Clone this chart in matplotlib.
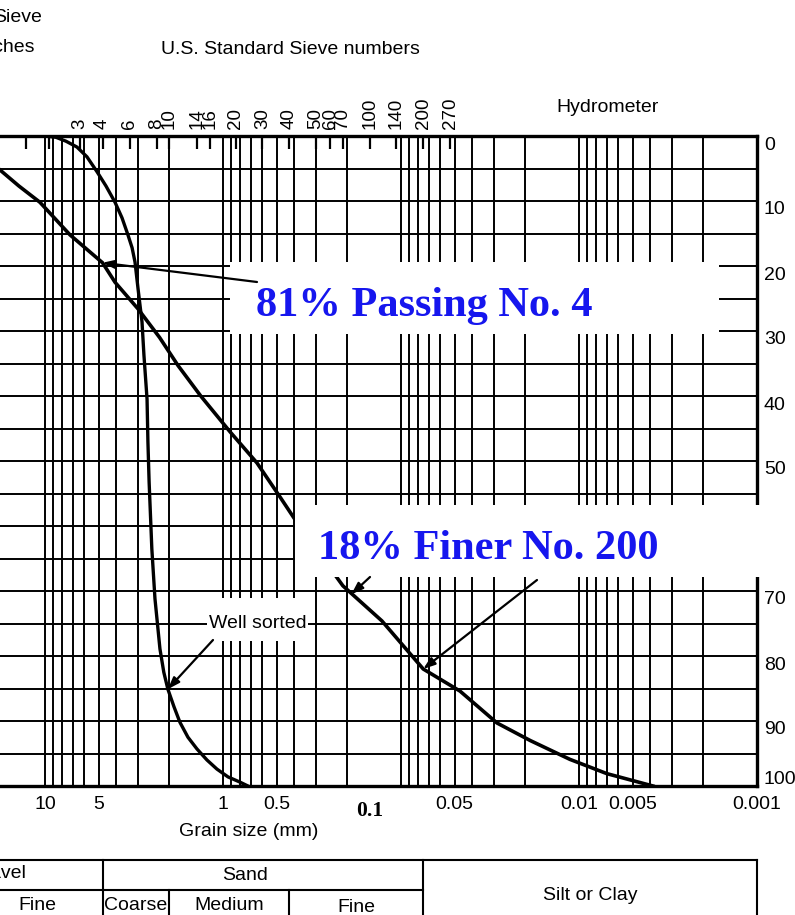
import numpy as np
import matplotlib
matplotlib.use('Agg')
import matplotlib.pyplot as plt
from matplotlib.patches import Rectangle
from matplotlib.ticker import LogLocator, MultipleLocator, NullLocator, NullFormatter
from matplotlib.transforms import ScaledTranslation, blended_transform_factory

# 粒径加積曲線（粒径 mm / 残留百分率）
graded_mm = [20, 14.0, 10.67, 7.24, 4.75, 4.04, 3.00, 2.27, 1.79, 1.333, 0.913, 0.644,
             0.479, 0.394, 0.212, 0.128, 0.075, 0.0466, 0.0289, 0.0188, 0.01125,
             0.00697, 0.00384]
graded_pct = [4.1, 7.7, 10.2, 15.2, 19.5, 22.5, 26.6, 31.0, 35.3, 40.0, 45.5, 50.3,
              55.5, 59.0, 69.2, 74.6, 82.0, 85.4, 90.3, 93.0, 95.9, 98.1, 100]

sorted_mm = [10.0, 8.67, 7.62, 6.61, 5.81, 5.10, 4.54, 4.04, 3.69, 3.42, 3.24, 3.12,
             3.00, 2.85, 2.78, 2.67, 2.64, 2.60, 2.51, 2.41, 2.26, 2.15, 2.04, 1.885,
             1.745, 1.573, 1.40, 1.23, 1.081, 0.937, 0.803, 0.724]
sorted_pct = [0, 0.2, 0.8, 1.7, 3.2, 5.5, 7.7, 10.2, 12.6, 15.2, 17.2, 19.4,
              23.5, 28.6, 33.7, 40.5, 47.1, 53.2, 63.5, 71.2, 78.9, 82.5, 85.1, 87.8,
              90.2, 92.5, 94.3, 96.0, 97.4, 98.6, 99.4, 100]

# ふるい番号と目開き
sieve_no = ['3', '4', '6', '8', '10', '14', '16', '20', '30', '40', '50', '60', '70',
            '100', '140', '200', '270']
sieve_mm = [6.35, 4.75, 3.35, 2.36, 2.0, 1.40, 1.18, 0.85, 0.60, 0.425, 0.30, 0.25,
            0.212, 0.15, 0.106, 0.075, 0.053]
inch_mm = [12.7, 9.5]

size_ticks = [10, 5, 1, 0.5, 0.05, 0.01, 0.005, 0.001]
size_labels = ['10', '5', '1', '0.5', '0.05', '0.01', '0.005', '0.001']
pct_ticks = list(range(0, 101, 10))

# 注記の矢印先
no4_point = (4.75, 19.5)
no200_point = (0.075, 82.0)
graded_tip = (0.19, 70.5)
sorted_tip = (2.04, 85.1)

# 区分（境界 mm）
gravel_sand = 4.75
coarse_medium = 2.0
medium_fine = 0.425
sand_silt = 0.075
x_left, x_right = 17.89, 0.001

W, H = 795, 915
SANS = ['Liberation Sans', 'DejaVu Sans']
SERIF = ['Liberation Serif', 'DejaVu Serif']
FS = 14


def fx(x):
    return x / W


def fy(y):
    return 1 - y / H


fig = plt.figure(figsize=(W / 100, H / 100), dpi=100)
ax = fig.add_axes([0, 1 - 786 / H, 757 / W, 650 / H])

#曲線
ax.plot(graded_mm, graded_pct, color='k', lw=2.6, zorder=3, solid_joinstyle='round')
ax.plot(sorted_mm, sorted_pct, color='k', lw=2.4, zorder=3, solid_joinstyle='round')


#白い注記ボックス（ピクセル座標）
def white_box(x0, y0, x1, y1):
    r = Rectangle((fx(x0), fy(y1)), (x1 - x0) / W, (y1 - y0) / H,
                  transform=fig.transFigure, facecolor='white', edgecolor='none',
                  zorder=4, clip_on=False)
    ax.add_patch(r)


white_box(230, 262, 719, 334)
white_box(295, 505, 800, 577)
white_box(207, 598, 308, 641)

blue = '#1616ee'
ax.text(fx(424), fy(316), '81% Passing No. 4', transform=fig.transFigure,
        ha='center', va='baseline', fontsize=30.5, fontweight='bold', color=blue,
        family=SERIF, zorder=6)
ax.text(fx(488), fy(559), '18% Finer No. 200', transform=fig.transFigure,
        ha='center', va='baseline', fontsize=30.5, fontweight='bold', color=blue,
        family=SERIF, zorder=6)
ax.text(fx(258), fy(623), 'Well sorted', transform=fig.transFigure,
        ha='center', va='center', fontsize=FS, family=SANS, zorder=6)

#矢印
arrow = dict(arrowstyle='-|>,head_length=0.7,head_width=0.25', color='k', lw=1.6,
             shrinkA=0, shrinkB=0)
for tip, start in [(no4_point, (257, 282)), (no200_point, (537, 580)),
                   (graded_tip, (370, 577)), (sorted_tip, (213, 640))]:
    ax.annotate('', xy=tip, xycoords='data', xytext=(fx(start[0]), fy(start[1])),
                textcoords='figure fraction', arrowprops=arrow, zorder=6,
                annotation_clip=False)

#下の区分表
trans = blended_transform_factory(ax.transData, fig.transFigure)
tk = dict(color='k', lw=1.5, transform=trans, clip_on=False)
ax.plot([x_left, x_right], [fy(860), fy(860)], **tk)
ax.plot([x_left, sand_silt], [fy(890), fy(890)], **tk)
for xv in [gravel_sand, sand_silt, x_right]:
    ax.plot([xv, xv], [fy(860), 0], **tk)
for xv in [coarse_medium, medium_fine]:
    ax.plot([xv, xv], [fy(890), 0], **tk)

ft = dict(fontsize=FS, family=SANS, va='center')
fig.text(fx(26), fy(874), 'Gravel', ha='right', **ft)
ax.text(0.75, fy(876), 'Sand', transform=trans, ha='center', **ft)
ax.text(0.0087, fy(896), 'Silt or Clay', transform=trans, ha='center', **ft)
ax.text(11, fy(905), 'Fine', transform=trans, ha='center', **ft)
ax.text(3.08, fy(905), 'Coarse', transform=trans, ha='center', **ft)
ax.text(0.92, fy(906), 'Medium', transform=trans, ha='center', **ft)
ax.text(0.178, fy(908), 'Fine', transform=trans, ha='center', **ft)

#軸の設定
ax.set_xscale('log')
ax.set_xlim(x_left, x_right)
ax.set_ylim(100, 0)
ax.set_xticks(size_ticks, size_labels)
ax.xaxis.set_minor_locator(LogLocator(base=10, subs=np.arange(1, 10), numticks=60))
ax.xaxis.set_minor_formatter(NullFormatter())
ax.set_yticks(pct_ticks)
ax.yaxis.set_minor_locator(MultipleLocator(5))
ax.yaxis.tick_right()
ax.tick_params(axis='both', which='both', length=0)
ax.tick_params(axis='x', pad=7, labelsize=FS)
ax.tick_params(axis='y', pad=5, labelsize=FS)
for lab in ax.get_xticklabels() + ax.get_yticklabels():
    lab.set_family(SANS)
ax.grid(True, which='both', color='k', lw=1.4)
ax.set_axisbelow(True)
for s in ['top', 'right', 'bottom']:
    ax.spines[s].set_linewidth(2.4)
ax.spines['left'].set_visible(False)

#目盛りラベルを少しずらす
down = ScaledTranslation(0, -0.07, fig.dpi_scale_trans)
up = ScaledTranslation(0, 0.09, fig.dpi_scale_trans)
for v, lab in zip(pct_ticks, ax.get_yticklabels()):
    lab.set_transform(lab.get_transform() + (up if v == 100 else down))

#上側のふるい番号
ax2 = ax.twiny()
ax2.set_xscale('log')
ax2.set_xlim(x_left, x_right)
ax2.set_xticks(sieve_mm + inch_mm, sieve_no + ['', ''])
ax2.xaxis.set_minor_locator(NullLocator())
ax2.tick_params(axis='x', direction='in', length=9, width=1.6, pad=5,
                labelrotation=90, labelsize=13.5)
for lab in ax2.get_xticklabels():
    lab.set_family(SANS)
for s in ax2.spines.values():
    s.set_visible(False)

#見出し
fig.text(fx(290), fy(50), 'U.S. Standard Sieve numbers', ha='center', **ft)
fig.text(fx(608), fy(108), 'Hydrometer', ha='center', **ft)
fig.text(fx(42), fy(18), 'Sieve', ha='right', **ft)
fig.text(fx(35), fy(48), 'Openings in inches', ha='right', **ft)
fig.text(fx(249), fy(832), 'Grain size (mm)', ha='center', **ft)
fig.text(fx(370), fy(811), '0.1', ha='center', va='center', fontsize=15.5,
         fontweight='bold', family=SERIF)

fig.savefig('out.png', dpi=100)
